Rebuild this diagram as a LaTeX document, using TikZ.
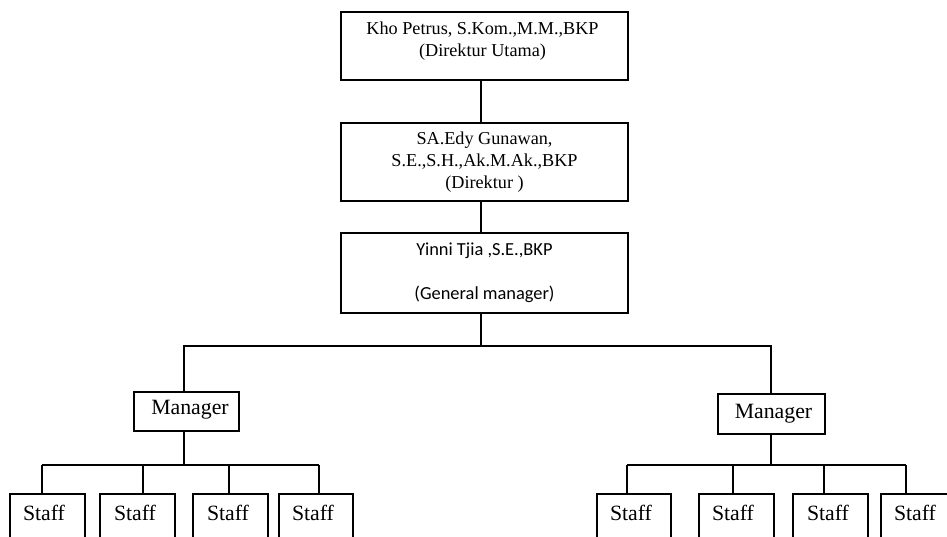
\documentclass[tikz,border=0pt]{standalone}
\usepackage{fontspec}
\setmainfont{Liberation Serif}
\newfontfamily\calfont{Carlito}
\begin{document}
\begin{tikzpicture}[x=1pt,y=-1pt,
  box/.style={draw, line width=1.2pt, inner sep=0pt, align=center},
  conn/.style={line width=1.2pt},
  toptxt/.style={font=\fontsize{18.2}{22}\selectfont, align=center, inner sep=0pt},
  smalltxt/.style={font=\fontsize{21.8}{24}\selectfont, inner sep=0pt},
  staffbox/.style={box, minimum width=75pt, minimum height=60pt}
]
\useasboundingbox (0,0) rectangle (947,536);
\clip (0,0) rectangle (947,536);
\fill[white] (0,0) rectangle (947,536);

% top boxes
\node[box, minimum width=287pt, minimum height=68pt] (k1) at (484.5,46) {};
\node[toptxt] (k1t) at (482.5,41) {Kho Petrus, S.Kom.,M.M.,BKP\\(Direktur Utama)};
\node[box, minimum width=287pt, minimum height=78pt, font=\fontsize{18.2}{22}\selectfont] (k2) at (484.5,162) {SA.Edy Gunawan,\\S.E.,S.H.,Ak.M.Ak.,BKP\\(Direktur )};
\node[box, minimum width=287pt, minimum height=80pt, font=\calfont\fontsize{18.4}{22}\selectfont] (k3) at (484.5,273) {Yinni Tjia ,S.E.,BKP\\[22pt](General manager)};

% managers
\node[box, minimum width=105pt, minimum height=39pt] (m1) at (186.5,411.5) {};
\node[smalltxt] (m1t) at (190,410) {Manager};
\node[box, minimum width=107pt, minimum height=40pt] (m2) at (771.5,414) {};
\node[smalltxt] (m2t) at (773.5,414) {Manager};

% staff left
\node[staffbox] (s1) at (47.5,524) {};
\node[staffbox] (s2) at (137.5,524) {};
\node[staffbox] (s3) at (230.5,524) {};
\node[staffbox, minimum width=74pt] (s4) at (316,524) {};
\foreach \n/\x in {s1/44,s2/135,s3/228,s4/313}
  \node[smalltxt] (\n t) at (\x,513) {Staff};
% staff right
\node[staffbox, minimum width=74pt] (r1) at (634,524) {};
\node[staffbox] (r2) at (736.5,524) {};
\node[staffbox] (r3) at (830.5,524) {};
\node[staffbox] (r4) at (918.5,524) {};
\foreach \n/\x in {r1/631,r2/733,r3/828,r4/915}
  \node[smalltxt] (\n t) at (\x,513) {Staff};

% connectors
\coordinate (jA) at (481,346);
\coordinate (jL) at (184,346);
\coordinate (jR) at (771,346);
\draw[conn] (k1.south -| jA) -- (k2.north -| jA);
\draw[conn] (k2.south -| jA) -- (k3.north -| jA);
\draw[conn] (k3.south -| jA) -- (jA);
\draw[conn] (jL |- m1.north) -- (jL) -- (jR) -- (jR |- m2.north);

% left staff bar
\coordinate (bL) at (184,465);
\coordinate (l1) at (42,465);
\coordinate (l2) at (143,465);
\coordinate (l3) at (229,465);
\coordinate (l4) at (319,465);
\draw[conn] (m1.south -| bL) -- (bL);
\draw[conn] (l1) -- (l4);
\draw[conn] (l1) -- (l1 |- s1.north);
\draw[conn] (l2) -- (l2 |- s2.north);
\draw[conn] (l3) -- (l3 |- s3.north);
\draw[conn] (l4) -- (l4 |- s4.north);

% right staff bar
\coordinate (bR) at (771,465);
\coordinate (q1) at (627,465);
\coordinate (q2) at (733,465);
\coordinate (q3) at (824,465);
\coordinate (q4) at (906,465);
\draw[conn] (m2.south -| bR) -- (bR);
\draw[conn] (q1) -- (q4);
\draw[conn] (q1) -- (q1 |- r1.north);
\draw[conn] (q2) -- (q2 |- r2.north);
\draw[conn] (q3) -- (q3 |- r3.north);
\draw[conn] (q4) -- (q4 |- r4.north);
\end{tikzpicture}
\end{document}
